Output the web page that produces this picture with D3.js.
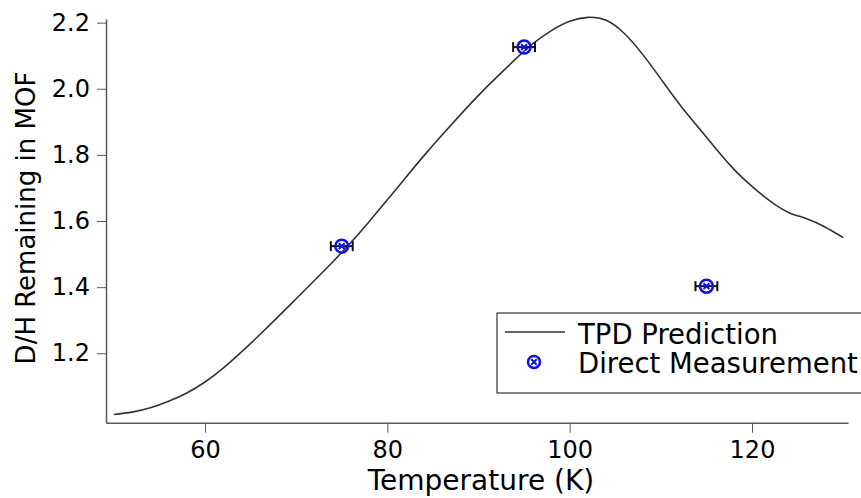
<!DOCTYPE html>
<html>
<head>
<meta charset="utf-8">
<script src="https://cdn.jsdelivr.net/npm/d3@7"></script>
<style>
  html, body { margin: 0; padding: 0; background: #fff; }
  svg { display: block; font-family: "DejaVu Sans", sans-serif; }
</style>
</head>
<body>
<svg id="chart" width="861" height="498"></svg>
<script>
// ---- data ----
const tpdTemperature = [50, 52, 54, 56, 58, 60, 62, 64, 66, 68, 70, 72, 74, 76, 78, 80, 82, 84, 86, 88, 90, 92, 94, 96, 98, 100, 102, 104, 106, 108, 110, 112, 114, 116, 118, 120, 122, 124, 126, 128, 130];
const tpdValue = [1.015, 1.022, 1.035, 1.055, 1.080, 1.113, 1.155, 1.204, 1.256, 1.310, 1.365, 1.420, 1.476, 1.535, 1.598, 1.664, 1.731, 1.797, 1.860, 1.921, 1.980, 2.035, 2.088, 2.137, 2.176, 2.204, 2.216, 2.207, 2.167, 2.104, 2.030, 1.955, 1.887, 1.820, 1.757, 1.705, 1.660, 1.626, 1.607, 1.582, 1.550];
const measTemperature = [75, 95, 115];
const measValue = [1.524, 2.126, 1.403];
const measTempError = [1.2, 1.2, 1.2];
const xTicks = [60, 80, 100, 120];
const yTicks = [1.2, 1.4, 1.6, 1.8, 2.0, 2.2];
const seriesNames = ["TPD Prediction", "Direct Measurement"];
const xTitle = "Temperature (K)";
const yTitle = "D/H Remaining in MOF";

// ---- chart ----
const svg = d3.select("#chart");
const x = d3.scaleLinear().domain([49.14, 130.53]).range([106, 848]);
const y = d3.scaleLinear().domain([0.99, 2.211]).range([422.7, 19]);
const axisColor = "#5a5a5a";

// axes
const xAxis = svg.append("g").attr("transform", `translate(0,${y.range()[0]})`)
  .call(d3.axisBottom(x).tickValues(xTicks).tickSize(10).tickSizeOuter(0).tickPadding(8).tickFormat(d3.format("d")));
const yAxis = svg.append("g").attr("transform", `translate(${x.range()[0]},0)`)
  .call(d3.axisLeft(y).tickValues(yTicks).tickSize(9).tickSizeOuter(0).tickPadding(7).tickFormat(d3.format(".1f")));
[xAxis, yAxis].forEach(g => {
  g.select(".domain").attr("stroke", axisColor).attr("stroke-width", 1.5);
  g.selectAll(".tick line").attr("stroke", axisColor).attr("stroke-width", 1);
  g.selectAll(".tick text").attr("fill", "#000").style("font-size", "24px").style("font-family", "DejaVu Sans, sans-serif");
});

// titles
svg.append("text").attr("x", 481).attr("y", 490).attr("text-anchor", "middle")
  .style("font-size", "28px").attr("fill", "#000").text(xTitle);
svg.append("text").attr("transform", `translate(35,218) rotate(-90)`).attr("text-anchor", "middle")
  .style("font-size", "26px").attr("fill", "#000").text(yTitle);

// TPD curve
const tpd = tpdTemperature.map((t, i) => ({ t, v: tpdValue[i] }));
svg.append("path").datum(tpd)
  .attr("fill", "none").attr("stroke", "#333").attr("stroke-width", 1.6)
  .attr("d", d3.line().x(d => x(d.t)).y(d => y(d.v)).curve(d3.curveNatural));

// measurements
const meas = measTemperature.map((t, i) => ({ t, v: measValue[i], e: measTempError[i] }));
const mg = svg.append("g").selectAll("g").data(meas).join("g");
mg.append("line").attr("x1", d => x(d.t - d.e)).attr("x2", d => x(d.t + d.e))
  .attr("y1", d => y(d.v)).attr("y2", d => y(d.v)).attr("stroke", "#111").attr("stroke-width", 2);
[-1, 1].forEach(s => {
  mg.append("line").attr("x1", d => x(d.t + s * d.e)).attr("x2", d => x(d.t + s * d.e))
    .attr("y1", d => y(d.v) - 5).attr("y2", d => y(d.v) + 5).attr("stroke", "#111").attr("stroke-width", 2);
});
function drawMarker(g, cx, cy, r) {
  g.append("circle").attr("cx", cx).attr("cy", cy).attr("r", r)
    .attr("fill", "none").attr("stroke", "#1010e8").attr("stroke-width", 2.5);
  const k = r * 0.45;
  g.append("path").attr("d", `M${cx - k},${cy - k}L${cx + k},${cy + k}M${cx - k},${cy + k}L${cx + k},${cy - k}`)
    .attr("stroke", "#1010e8").attr("stroke-width", 2);
}
mg.each(function(d) { drawMarker(d3.select(this), x(d.t), y(d.v), 6.5); });

// legend
const lg = svg.append("g");
lg.append("rect").attr("x", 497).attr("y", 313).attr("width", 380).attr("height", 80)
  .attr("fill", "#fff").attr("stroke", "#333").attr("stroke-width", 1.2);
lg.append("line").attr("x1", 505).attr("x2", 565).attr("y1", 332).attr("y2", 332)
  .attr("stroke", "#333").attr("stroke-width", 1.6);
drawMarker(lg, 534, 362, 6);
lg.append("text").attr("x", 578).attr("y", 344).style("font-size", "27.5px").attr("fill", "#000").text(seriesNames[0]);
lg.append("text").attr("x", 578).attr("y", 373).style("font-size", "27.5px").attr("fill", "#000").text(seriesNames[1]);
</script>
</body>
</html>
